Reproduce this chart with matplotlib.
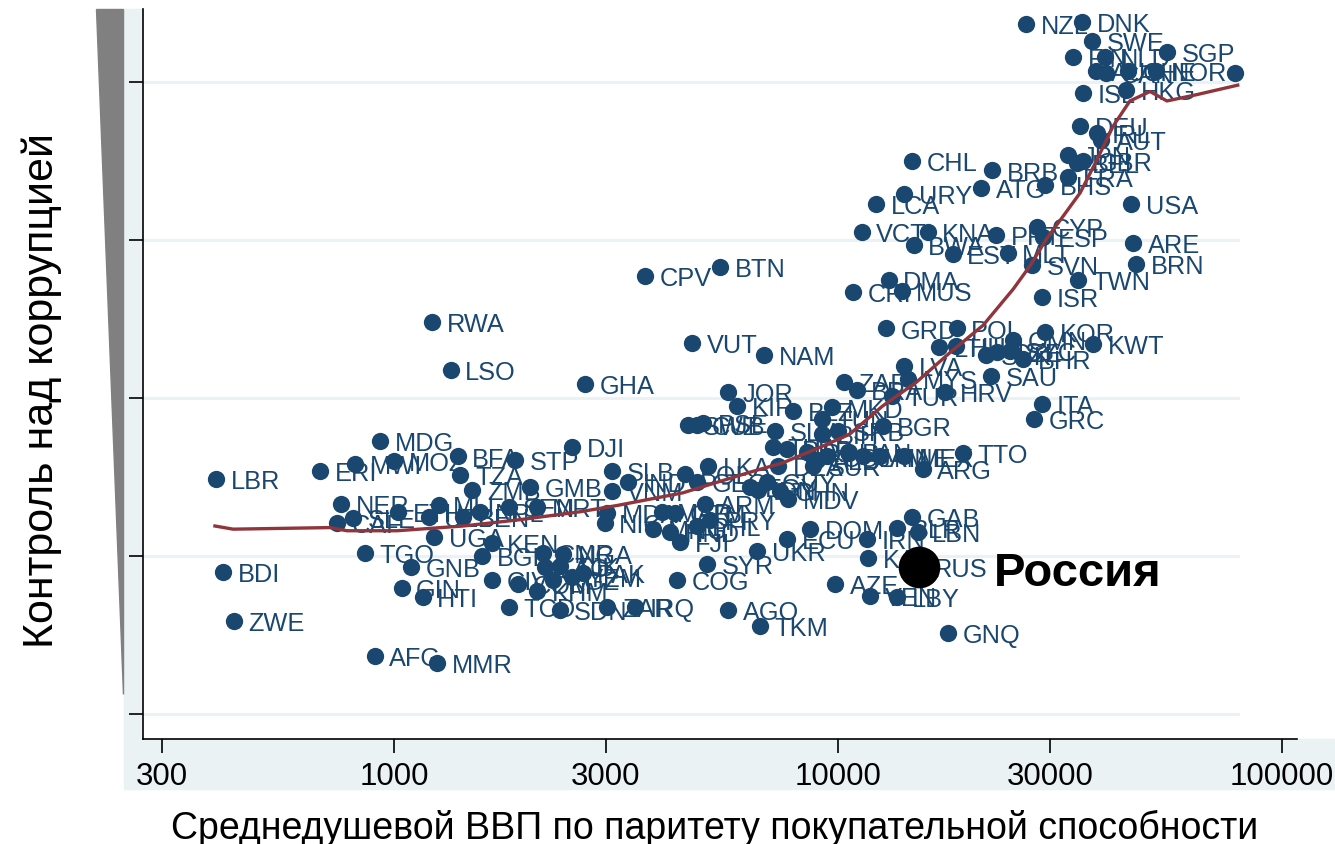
import matplotlib
matplotlib.use("Agg")
import matplotlib.pyplot as plt
from matplotlib.patches import Polygon, Rectangle
from matplotlib.ticker import FixedLocator, FixedFormatter, NullLocator

plt.rcParams['font.family'] = ['Liberation Sans', 'DejaVu Sans']

# country codes, GDP per capita (PPP) and control of corruption
codes = ['LBR', 'BDI', 'ZWE', 'AFG', 'MMR', 'RWA', 'LSO', 'MDG', 'ERI', 'MWI',
         'MOZ', 'BFA', 'STP', 'TZA', 'ZMB', 'GMB', 'DJI', 'GHA', 'NER', 'CAF',
         'SLE', 'ETH', 'UZB', 'MLI', 'BEN', 'NPL', 'SEN', 'MRT', 'TGO', 'UGA',
         'KEN', 'BGD', 'GNB', 'GIN', 'HTI', 'CIV', 'TCD', 'KHM', 'COM', 'CMR',
         'NGA', 'LAO', 'TJK', 'KGZ', 'YEM', 'PAK', 'SDN', 'ZAR', 'IRQ', 'SLB',
         'VNM', 'IND', 'BOL', 'GEO', 'LKA', 'MDA', 'NIC', 'MNG', 'MAR', 'GTM',
         'HND', 'FJI', 'ARM', 'PRY', 'PHL', 'JOR', 'KIR', 'BLZ', 'SWZ', 'CUB',
         'PSE', 'SLV', 'THA', 'PER', 'DZA', 'EGY', 'GUY', 'IDN', 'CHN', 'MDV',
         'ROU', 'ALB', 'SUR', 'COL', 'PAN', 'JAM', 'MNE', 'MEX', 'ARG', 'TTO',
         'TUN', 'BIH', 'SRB', 'BGR', 'MKD', 'ZAF', 'BRA', 'TUR', 'HRV', 'MYS',
         'LVA', 'SAU', 'LTU', 'HUN', 'SVK', 'CZE', 'OMN', 'SYC', 'BHR', 'KOR',
         'KWT', 'GRD', 'POL', 'ITA', 'GRC', 'ISR', 'DMA', 'MUS', 'CRI', 'TWN',
         'SVN', 'BRN', 'ARE', 'MLT', 'EST', 'BWA', 'PRT', 'KNA', 'VCT', 'CYP',
         'ESP', 'USA', 'LCA', 'URY', 'ATG', 'BRB', 'CHL', 'BHS', 'FRA', 'JPN',
         'BEL', 'GBR', 'DEU', 'IRL', 'AUT', 'ISL', 'HKG', 'NZL', 'DNK', 'SWE',
         'FIN', 'NLD', 'SGP', 'AUS', 'CAN', 'CHE', 'NOR', 'LUX', 'CPV', 'BTN',
         'VUT', 'NAM', 'GAB', 'BLR', 'LBN', 'DOM', 'ECU', 'IRN', 'KAZ', 'RUS',
         'AZE', 'VEN', 'LBY', 'GNQ', 'UKR', 'SYR', 'COG', 'AGO', 'TKM']

gdp = [397, 412, 436, 905, 1250, 1220, 1340, 929, 681, 816,
       1000, 1390, 1870, 1410, 1500, 2020, 2520, 2690, 759, 744,
       808, 1020, 1200, 1260, 1430, 1560, 1810, 2100, 860, 1230,
       1660, 1580, 1090, 1040, 1160, 1660, 1810, 2100, 1900, 2160,
       2400, 2190, 2360, 2280, 2520, 2660, 2360, 3020, 3490, 3100,
       3100, 3360, 4520, 4810, 5090, 3020, 2980, 3830, 4010, 4290,
       4180, 4400, 5010, 5150, 4810, 5650, 5920, 7910, 4590, 4810,
       4960, 7210, 7130, 7670, 7320, 6330, 6920, 6600, 7400, 7710,
       8510, 8960, 8780, 9440, 10500, 11400, 12400, 14100, 15500, 19100,
       9190, 9190, 9990, 12600, 9690, 10300, 11000, 13200, 17400, 14400,
       14100, 22100, 16900, 18400, 21500, 22800, 24800, 24400, 26100, 29200,
       37500, 12800, 18500, 28800, 27600, 28800, 13000, 13900, 10800, 34700,
       27300, 46900, 46100, 24100, 18100, 14800, 22700, 15900, 11300, 28000,
       28900, 45700, 12200, 14100, 21000, 22200, 14700, 29200, 32900, 32900,
       34500, 35600, 35100, 38300, 39100, 35600, 44500, 26500, 35400, 37300,
       33800, 39900, 55000, 38100, 40100, 45000, 52000, 78300, 3670, 5420,
       4690, 6810, 14700, 13600, 15100, 8640, 7670, 11600, 11700, 15200,
       9840, 11800, 13600, 17700, 6570, 5070, 4340, 5650, 6670]

cc = [-0.51, -1.10, -1.41, -1.63, -1.68, 0.48, 0.18, -0.27, -0.46, -0.42,
      -0.40, -0.37, -0.39, -0.49, -0.58, -0.56, -0.31, 0.09, -0.67, -0.79,
      -0.76, -0.72, -0.75, -0.68, -0.75, -0.72, -0.69, -0.69, -0.98, -0.88,
      -0.92, -1.00, -1.07, -1.20, -1.26, -1.15, -1.32, -1.22, -1.18, -0.98,
      -0.99, -1.07, -1.06, -1.15, -1.13, -1.11, -1.34, -1.32, -1.32, -0.46,
      -0.59, -0.53, -0.48, -0.53, -0.43, -0.73, -0.79, -0.83, -0.72, -0.73,
      -0.85, -0.91, -0.67, -0.77, -0.81, 0.04, -0.05, -0.08, -0.17, -0.17,
      -0.16, -0.21, -0.31, -0.32, -0.43, -0.56, -0.53, -0.58, -0.59, -0.64,
      -0.34, -0.39, -0.43, -0.37, -0.34, -0.37, -0.37, -0.37, -0.45, -0.35,
      -0.13, -0.23, -0.21, -0.18, -0.06, 0.10, 0.05, 0.01, 0.04, 0.12,
      0.20, 0.14, 0.32, 0.33, 0.27, 0.29, 0.37, 0.30, 0.25, 0.42,
      0.34, 0.44, 0.44, -0.04, -0.13, 0.64, 0.75, 0.68, 0.67, 0.75,
      0.84, 0.85, 0.98, 0.92, 0.91, 0.97, 1.03, 1.05, 1.05, 1.08,
      1.02, 1.23, 1.23, 1.29, 1.33, 1.44, 1.50, 1.35, 1.40, 1.54,
      1.49, 1.50, 1.72, 1.68, 1.63, 1.93, 1.95, 2.37, 2.38, 2.26,
      2.16, 2.16, 2.19, 2.07, 2.06, 2.07, 2.07, 2.06, 0.77, 0.83,
      0.35, 0.27, -0.75, -0.82, -0.85, -0.83, -0.89, -0.89, -1.01, -1.07,
      -1.18, -1.25, -1.26, -1.49, -0.97, -1.05, -1.15, -1.34, -1.44]

no_label = ['LUX']

# lowess fit line
fit_gdp = [395, 434, 717, 783, 1015, 1430, 1920, 2620, 3180, 4470, 6320, 7510,
           8960, 10600, 12600, 15000, 17900, 21200, 24800, 27100, 29500, 32100,
           35100, 38300, 41600, 45400, 50400, 55000, 64200, 79400]
fit_cc = [-0.81, -0.83, -0.82, -0.84, -0.84, -0.81, -0.77, -0.72, -0.68, -0.60,
          -0.47, -0.41, -0.32, -0.23, -0.05, 0.10, 0.29, 0.46, 0.69, 0.84, 1.01,
          1.15, 1.30, 1.51, 1.72, 1.88, 1.94, 1.88, 1.92, 1.98]

rus_gdp, rus_cc = 15200, -1.07

xticks = [300, 1000, 3000, 10000, 30000, 100000]
xtick_labels = ['300', '1000', '3000', '10000', '30000', '100000']
yticks = [-2, -1, 0, 1, 2]

navy = '#1A476F'
light = '#EAF2F3'

W, H = 1335, 845
fig = plt.figure(figsize=(W / 100, H / 100), dpi=100)


def fx(x):
    return x / W


def fy(y):
    return 1 - y / H


# background strips and wedge at the left
fig.patches.append(Rectangle((fx(124), fy(790)), fx(1335) - fx(124), fy(740) - fy(790),
                             transform=fig.transFigure, color=light, zorder=-2))
fig.patches.append(Rectangle((fx(124), fy(740)), fx(143) - fx(124), fy(10) - fy(740),
                             transform=fig.transFigure, color=light, zorder=-2))
fig.patches.append(Polygon([(fx(96), fy(10)), (fx(123), fy(10)), (fx(123), fy(695))],
                           closed=True, transform=fig.transFigure, color='#808080', zorder=-2))

ax = fig.add_axes([fx(143), fy(740), fx(1297) - fx(143), fy(10) - fy(740)])
ax.set_xscale('log')
ax.set_xlim(272, 107970)
ax.set_ylim(-2.158, 2.462)

for y in yticks:
    ax.axhline(y, xmin=0, xmax=0.949, color=light, lw=2.2, zorder=0.5)

ax.scatter(gdp, cc, s=155, color=navy, linewidths=0, zorder=3)
for c, x, y in zip(codes, gdp, cc):
    if c in no_label:
        continue
    ax.annotate(c, (x, y), xytext=(10.5, -6.5), textcoords='offset points',
                fontsize=18.3, color=navy, va='baseline', ha='left', zorder=3)

ax.plot(fit_gdp, fit_cc, color='#90353B', lw=2.4, zorder=4)

ax.scatter([rus_gdp], [rus_cc], s=900, color='black', linewidths=0, zorder=6)
ax.annotate('Россия', (rus_gdp, rus_cc), xytext=(54, -13), textcoords='offset points',
            fontsize=34, fontweight='bold', color='black', va='baseline', ha='left', zorder=6)

ax.xaxis.set_major_locator(FixedLocator(xticks))
ax.xaxis.set_major_formatter(FixedFormatter(xtick_labels))
ax.xaxis.set_minor_locator(NullLocator())
ax.set_yticks(yticks)
ax.set_yticklabels([])
ax.tick_params(axis='both', direction='out', length=10, width=1.2, color='black')
ax.tick_params(axis='x', labelsize=22.5, pad=6)

for s in ['top', 'right']:
    ax.spines[s].set_visible(False)
for s in ['left', 'bottom']:
    ax.spines[s].set_linewidth(1.2)

fig.text(fx(42), fy(390), 'Контроль над коррупцией', rotation=90, fontsize=31,
         ha='center', va='center')
fig.text(fx(715), fy(828), 'Среднедушевой ВВП по паритету покупательной способности',
         fontsize=27, ha='center', va='center')

fig.savefig('out.png', dpi=100)
